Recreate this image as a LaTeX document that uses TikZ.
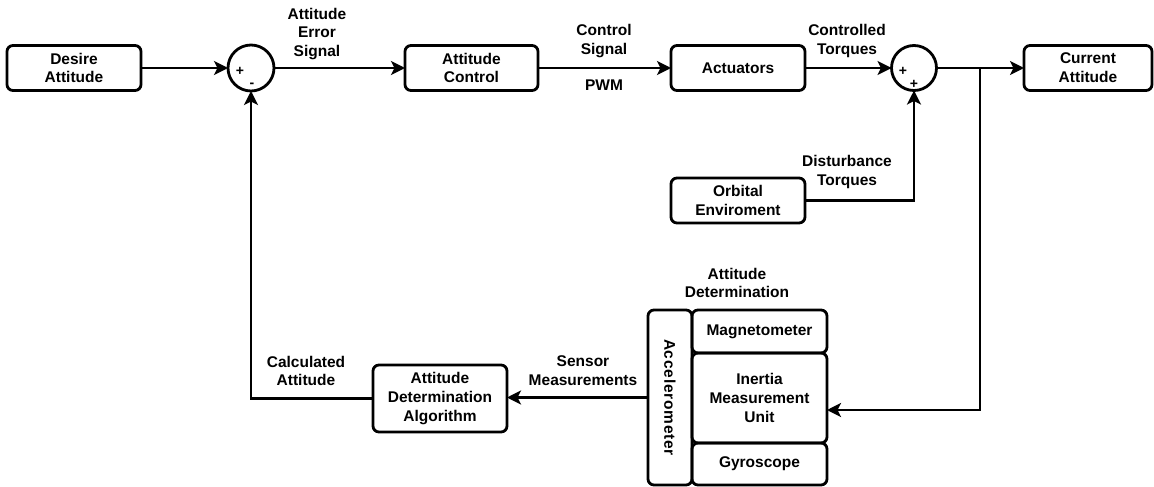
\documentclass[tikz,border=0pt]{standalone}
\usepackage{fontspec}
\setmainfont{Liberation Sans}
\usetikzlibrary{arrows.meta}
\begin{document}
\begin{tikzpicture}[x=1pt,y=-1pt,
  every node/.style={font=\fontsize{15.5}{18.8}\selectfont\bfseries, align=center, inner sep=0pt, outer sep=0pt},
  blk/.style={draw, line width=2.8pt, rounded corners=6pt, minimum width=#1, minimum height=45pt},
  blk/.default=134pt,
  sumnode/.style={draw, circle, line width=2.8pt, minimum size=#1},
  sign/.style={font=\fontsize{14}{14}\selectfont\bfseries},
  lbl/.style={},
  arr/.style={line width=2.8pt, -{Stealth[length=14pt, width=14pt, inset=3.5pt]}},
  ln/.style={line width=2.8pt}]
\useasboundingbox (0,0) rectangle (1154,487);

% forward path
\node[blk] (desire) at (74,68) {Desire\\Attitude};
\node[sumnode=46pt] (sum1) at (251,68) {};
\node[sign] (s1p) at (240,71) {+};
\node[sign] (s1m) at (252,85) {-};
\node[blk=133pt] (actl) at (471.5,68) {Attitude\\Control};
\node[blk] (act) at (738,68) {Actuators};
\node[sumnode=45pt] (sum2) at (914,68) {};
\node[sign] (s2a) at (903,71) {+};
\node[sign] (s2b) at (914,84) {+};
\node[blk=128pt] (cur) at (1088,68) {Current\\Attitude};

% disturbance
\node[blk] (orb) at (738,200.5) {Orbital\\Enviroment};

% attitude determination block
\node[blk=44pt, minimum height=175pt] (acc) at (670,397.5) {};
\node[rotate=-90, font=\fontsize{15.5}{18.8}\selectfont\bfseries\addfontfeature{LetterSpace=5}] (acctxt) at (acc.center) {Accelerometer};
\node[blk=135pt, minimum height=43pt] (mag) at (759.5,331.5) {Magnetometer};
\node[blk=135pt, minimum height=90pt] (imu) at (759.5,398) {Inertia\\Measurement\\Unit};
\node[blk=135pt, minimum height=42pt] (gyr) at (759.5,464) {Gyroscope};
\node[blk, minimum height=67pt] (ada) at (440,398.5) {Attitude\\Determination\\Algorithm};

% connector labels
\node[lbl] (l1) at (317,34) {Attitude\\Error\\Signal};
\node[lbl] (l2) at (604,41) {Control\\Signal};
\node[lbl] (l3) at (604,85) {PWM};
\node[lbl] (l4) at (847,41) {Controlled\\Torques};
\node[lbl] (l5) at (847,172) {Disturbance\\Torques};
\node[lbl] (l6) at (737,283) {Attitude\\Determination};
\node[lbl] (l7) at (306,371) {Calculated\\Attitude};
\node[lbl] (l8) at (583,371) {Sensor\\Measurements};

% connectors
\coordinate (br) at (980,68);
\coordinate (brlow) at (980,410);
\draw[arr] (desire.east) -- (sum1.west);
\draw[arr] (sum1.east) -- (actl.west);
\draw[arr] (actl.east) -- (act.west);
\draw[arr] (act.east) -- (sum2.west);
\draw[arr] (sum2.east) -- (cur.west);
\draw[arr] (orb.east) -| (sum2.south);
\draw[arr] (br) -- (brlow) -- (brlow -| imu.east);
\draw[arr] (acc.west) -- (acc.west -| ada.east);
\draw[arr] (ada.west) -| (sum1.south);
\end{tikzpicture}
\end{document}
